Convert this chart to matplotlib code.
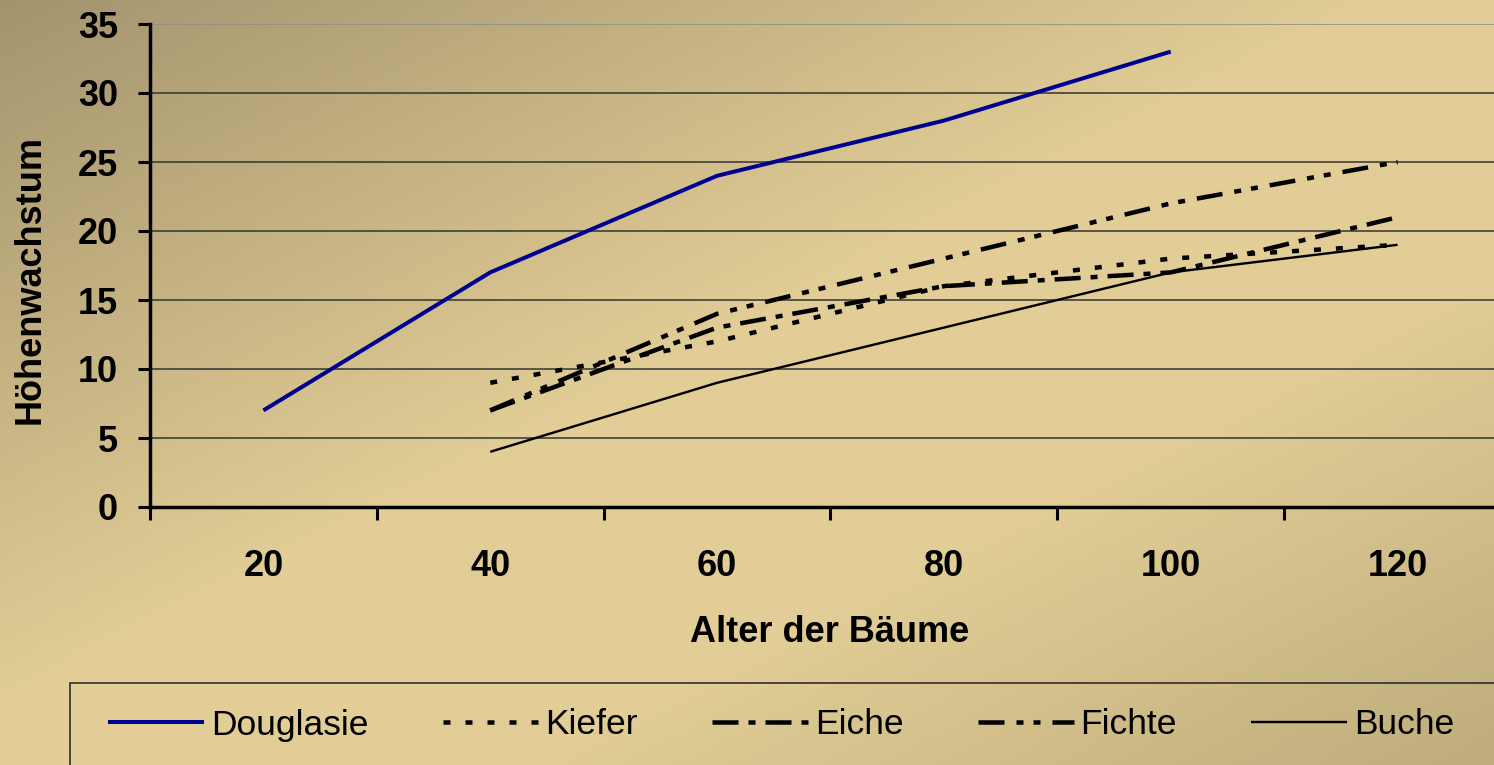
import numpy as np
import matplotlib
matplotlib.use("Agg")
import matplotlib.pyplot as plt
from matplotlib.patches import Rectangle

plt.rcParams['font.family'] = ['Liberation Sans', 'DejaVu Sans']
plt.rcParams['lines.scale_dashes'] = False

# Alter der Bäume (Jahre) und Höhen je Baumart
alter = ['20', '40', '60', '80', '100', '120']
douglasie = [7, 17, 24, 28, 33]          # 20 .. 100
kiefer = [9, 12, 16, 18, 19]             # 40 .. 120
eiche = [7, 13, 16, 17, 21]              # 40 .. 120
fichte = [7, 14, 18, 22, 25]             # 40 .. 120
buche = [4, 9, 13, 17, 19]               # 40 .. 120

W, H = 1494, 765
fig = plt.figure(figsize=(W / 100, H / 100), dpi=100)

# Hintergrund: diagonaler Verlauf, dunkel oben links, hell in der Mitte
bg = fig.add_axes([0, 0, 1, 1], zorder=-10)
gx, gy = np.meshgrid(np.linspace(0, 1, 300), np.linspace(0, 1, 160))
t = 0.5 * gx + 0.5 * gy
dark = np.array([164, 148, 110]) / 255
light = np.array([225, 205, 149]) / 255
br = np.array([190, 172, 124]) / 255
a = np.clip(t / 0.46, 0, 1)[..., None]
b = np.clip((t - 0.68) / 0.32, 0, 1)[..., None]
img = dark + (light - dark) * a
img = img + (br - light) * b
bg.imshow(img, aspect='auto', extent=[0, 1, 1, 0])
bg.set_axis_off()

ax = fig.add_axes([150 / W, 1 - 507 / H, 1361 / W, 483 / H])
ax.set_facecolor('none')

x = np.arange(len(alter))

def px(v):
    return v * 0.72

ax.plot(x[:len(douglasie)], douglasie, color='#000090', lw=px(4),
        solid_capstyle='butt', label='Douglasie', zorder=5)
ax.plot(x[1:], kiefer, color='black', lw=px(4.5),
        linestyle=(0, (px(7), px(15))), dash_capstyle='butt', label='Kiefer', zorder=4)
ax.plot(x[1:], eiche, color='black', lw=px(4.5),
        linestyle=(0, (px(26), px(10), px(7), px(10))), dash_capstyle='butt',
        label='Eiche', zorder=4)
ax.plot(x[1:], fichte, color='black', lw=px(4.5),
        linestyle=(0, (px(26), px(12), px(7), px(10), px(7), px(12))),
        dash_capstyle='butt', label='Fichte', zorder=4)
ax.plot(x[1:], buche, color='black', lw=px(2.4),
        solid_capstyle='butt', label='Buche', zorder=4)

ax.set_xlim(-0.5, len(alter) - 0.5)
ax.set_ylim(0, 35)
ax.set_yticks(np.arange(0, 36, 5))
ax.set_xticks(np.arange(-0.5, len(alter), 1))
ax.set_xticklabels([])
ax.set_xticks(x, minor=True)
ax.set_xticklabels(alter, minor=True)

ax.tick_params(axis='x', which='major', direction='out', length=9, width=2.2, color='black')
ax.tick_params(axis='x', which='minor', length=0, pad=30, labelsize=26)
ax.tick_params(axis='y', direction='out', length=9, width=2.2, pad=14, labelsize=26)
for lab in ax.get_xticklabels(minor=True) + ax.get_yticklabels():
    lab.set_fontweight('bold')

ax.grid(axis='y', color='#333333', lw=1.1)
ax.set_axisbelow(True)
ax.get_ygridlines()[-1].set_color('#8c8c8c')
for side in ['left', 'bottom']:
    ax.spines[side].set_linewidth(2.5)
    ax.spines[side].set_color('black')
ax.spines['right'].set_visible(False)
ax.spines['top'].set_visible(False)

fig.text(830 / W, 1 - 633 / H, 'Alter der Bäume', ha='center', va='center',
         fontsize=26, fontweight='bold')
fig.text(30 / W, 1 - 280 / H, 'Höhenwachstum', ha='center', va='center',
         rotation=90, fontsize=26, fontweight='bold')

# Legendenrahmen unten
fig.add_artist(Rectangle((70 / W, -0.05), 1.0, (765 - 683) / H + 0.05,
                         transform=fig.transFigure, facecolor='none',
                         edgecolor='#2e2e2e', lw=1.2))
handles, labels = ax.get_legend_handles_labels()
fig.legend(handles, labels, loc='center left', ncol=5, frameon=False,
           bbox_to_anchor=(108 / W, 1 - 725 / H), borderaxespad=0, borderpad=0,
           fontsize=25.5, handlelength=2.7, handletextpad=0.2, columnspacing=2.1)

fig.savefig('out.png', dpi=100)
